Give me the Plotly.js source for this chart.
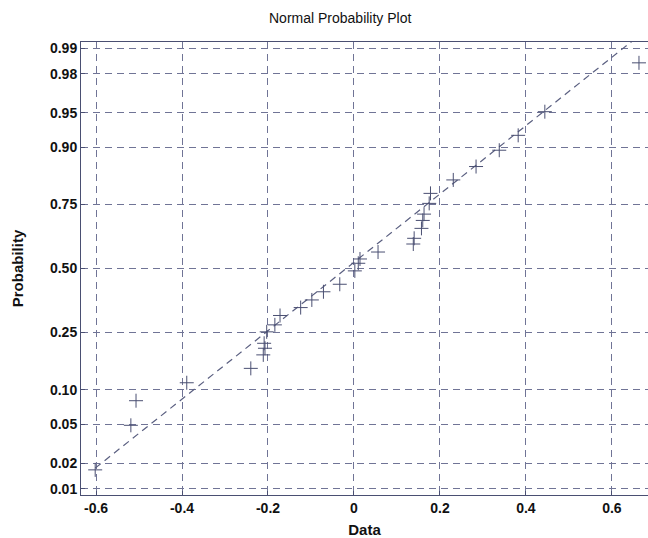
<!DOCTYPE html>
<html>
<head>
<meta charset="utf-8">
<script src="https://cdn.plot.ly/plotly-3.0.1.min.js"></script>
<style>html,body{margin:0;padding:0;background:#fff;}#chart{width:648px;height:538px;}</style>
</head>
<body>
<div id="chart"></div>
<script>
// Sorted data values (x) and their plotted probabilities (y)
const dataValues = [-0.602, -0.519, -0.507, -0.389, -0.240, -0.211, -0.207, -0.209, -0.203, -0.184,
  -0.172, -0.124, -0.098, -0.071, -0.033, 0.002, 0.010, 0.014, 0.056, 0.138,
  0.140, 0.157, 0.160, 0.163, 0.175, 0.178, 0.231, 0.284, 0.338, 0.382,
  0.444, 0.663];
const probValues = [0.0168, 0.049, 0.0815, 0.114, 0.146, 0.181, 0.200, 0.215, 0.252, 0.276,
  0.310, 0.340, 0.370, 0.403, 0.434, 0.490, 0.522, 0.540, 0.569, 0.602,
  0.625, 0.664, 0.694, 0.717, 0.754, 0.786, 0.825, 0.859, 0.894, 0.920,
  0.951, 0.985];
const probTicks = [0.01, 0.02, 0.05, 0.10, 0.25, 0.50, 0.75, 0.90, 0.95, 0.98, 0.99];
const probTickLabels = ['0.01','0.02','0.05','0.10','0.25','0.50','0.75','0.90','0.95','0.98','0.99'];
const xTicks = [-0.6, -0.4, -0.2, 0, 0.2, 0.4, 0.6];
const xTickLabels = ['-0.6','-0.4','-0.2','0','0.2','0.4','0.6'];

// inverse normal CDF (Acklam)
function norminv(p){
  const a=[-3.969683028665376e+01,2.209460984245205e+02,-2.759285104469687e+02,1.383577518672690e+02,-3.066479806614716e+01,2.506628277459239e+00];
  const b=[-5.447609879822406e+01,1.615858368580409e+02,-1.556989798598866e+02,6.680131188771972e+01,-1.328068155288572e+01];
  const c=[-7.784894002430293e-03,-3.223964580411365e-01,-2.400758277161838e+00,-2.549732539343734e+00,4.374664141464968e+00,2.938163982698783e+00];
  const d=[7.784695709041462e-03,3.224671290700398e-01,2.445134137142996e+00,3.754408661907416e+00];
  const pl=0.02425, ph=1-pl; let q,r;
  if(p<pl){q=Math.sqrt(-2*Math.log(p));return (((((c[0]*q+c[1])*q+c[2])*q+c[3])*q+c[4])*q+c[5])/((((d[0]*q+d[1])*q+d[2])*q+d[3])*q+1);}
  if(p>ph){q=Math.sqrt(-2*Math.log(1-p));return -(((((c[0]*q+c[1])*q+c[2])*q+c[3])*q+c[4])*q+c[5])/((((d[0]*q+d[1])*q+d[2])*q+d[3])*q+1);}
  q=p-0.5;r=q*q;return (((((a[0]*r+a[1])*r+a[2])*r+a[3])*r+a[4])*r+a[5])*q/(((((b[0]*r+b[1])*r+b[2])*r+b[3])*r+b[4])*r+1);
}
function prctile(arr, pct){
  const s=arr.slice().sort((u,v)=>u-v), n=s.length;
  const pos = pct/100*n + 0.5; // MATLAB style
  if(pos<=1) return s[0]; if(pos>=n) return s[n-1];
  const lo=Math.floor(pos), f=pos-lo;
  return s[lo-1]+f*(s[lo]-s[lo-1]);
}
const zVals = probValues.map(norminv);
const q1 = prctile(dataValues,25), q3 = prctile(dataValues,75);
const z1 = norminv(0.25), z3 = norminv(0.75);
const slope = (z3-z1)/(q3-q1);
const xmin = Math.min(...dataValues), xmax = Math.max(...dataValues);
const lineX = [xmin, xmax];
const lineY = lineX.map(x => z1 + slope*(x-q1));

const markColor = '#4a4f72';
const gridColor = '#7074966';
const traces = [
  {x: lineX, y: lineY, mode:'lines', type:'scatter', line:{color:'#5a5f80', width:1.2, dash:'7px,5px'}, hoverinfo:'skip'},
  {x: dataValues, y: zVals, mode:'markers', type:'scatter',
   marker:{symbol:'cross-thin-open', size:10, color:markColor, line:{color:markColor, width:1}}}
];
const fontFam = 'Liberation Sans, Arial, sans-serif';
const layout = {
  width:648, height:538, showlegend:false,
  paper_bgcolor:'#fff', plot_bgcolor:'#fff',
  margin:{l:81, r:0, t:42, b:43, pad:0},
  title:{text:'Normal Probability Plot', font:{family:fontFam, size:14, color:'#111'}, x:0.525, xanchor:'center', y:0.966, yanchor:'middle'},
  xaxis:{range:[-0.635, 0.684], tickvals:xTicks, ticktext:xTickLabels,
    showgrid:true, gridcolor:'#707496', griddash:'7px,5px', gridwidth:1,
    showline:true, linecolor:'#4a4f72', linewidth:1, mirror:true,
    ticks:'inside', ticklen:4, tickcolor:'#4a4f72', zeroline:false,
    tickfont:{family:fontFam, size:14, color:'#111', weight:'bold'},
    title:{text:'Data', font:{family:fontFam, size:15, color:'#111', weight:'bold'}, standoff:9}},
  yaxis:{range:[-2.39, 2.39], tickvals:probTicks.map(norminv), ticktext:probTickLabels,
    showgrid:true, gridcolor:'#707496', griddash:'7px,5px', gridwidth:1,
    showline:true, linecolor:'#4a4f72', linewidth:1, mirror:false,
    ticks:'inside', ticklen:4, tickcolor:'#4a4f72', zeroline:false,
    tickfont:{family:fontFam, size:14, color:'#111', weight:'bold'},
    title:{text:'Probability', font:{family:fontFam, size:15, color:'#111', weight:'bold'}, standoff:22}}
};
Plotly.newPlot('chart', traces, layout, {displayModeBar:false, staticPlot:true});
</script>
</body>
</html>
